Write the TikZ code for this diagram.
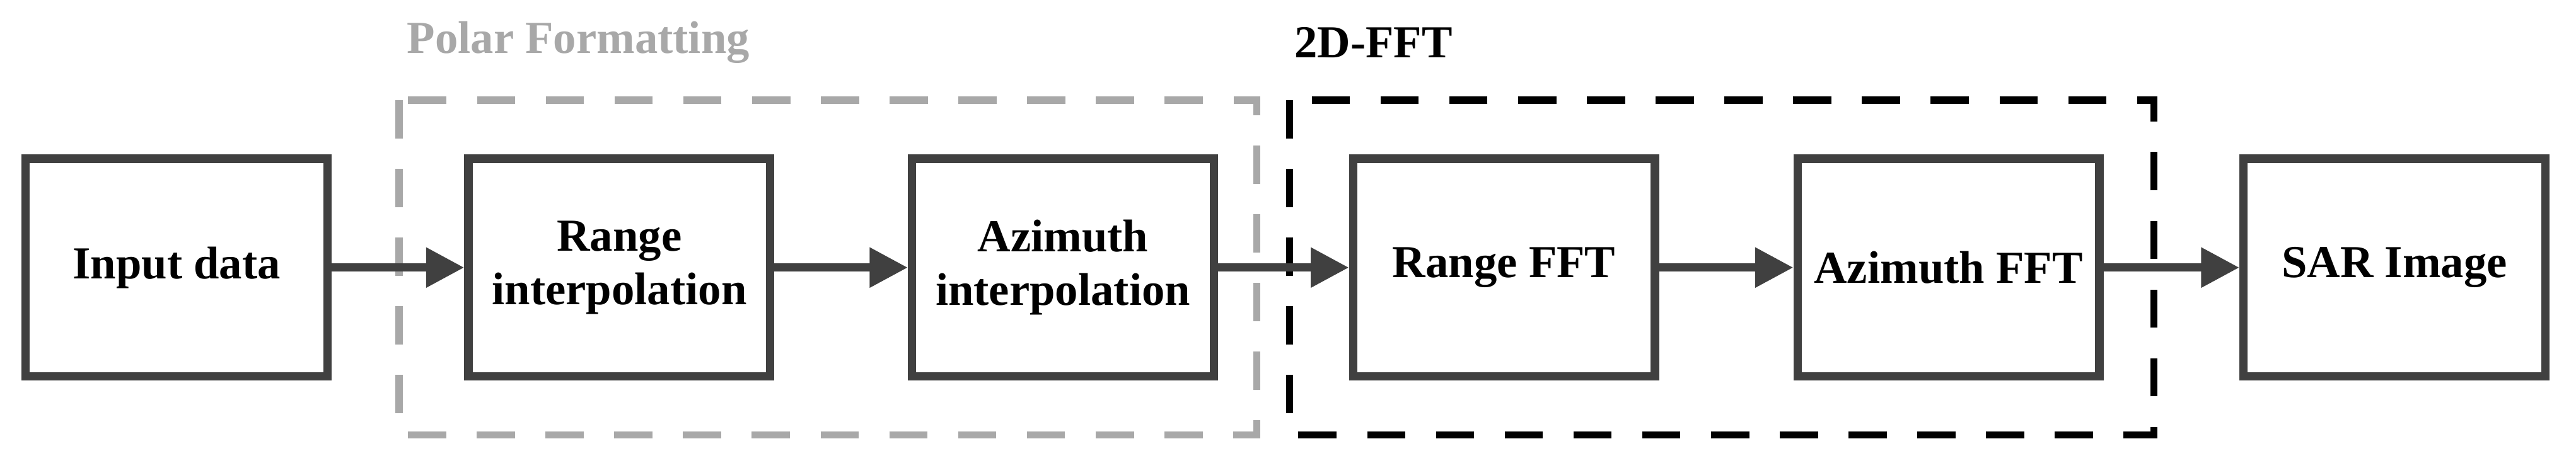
\documentclass[tikz,border=0pt]{standalone}
\usepackage{fontspec}
\setmainfont{Liberation Serif}
\usetikzlibrary{positioning,arrows.meta}
\definecolor{boxgray}{HTML}{404040}
\definecolor{dashgray}{HTML}{A8A8A8}
\begin{document}
\begin{tikzpicture}[x=0.43pt, y=-0.43pt,
    block/.style={rectangle, draw=boxgray, line width=2.2pt, minimum width=79pt, minimum height=57pt, align=center, font=\fontsize{12}{14}\selectfont\bfseries, inner sep=0pt},
    flow/.style={draw=boxgray, line width=2.2pt, -{Triangle[length=10pt,width=10pt]}},
    group/.style={line width=1.9pt, dash pattern=on 10pt off 8pt},
    glabel/.style={font=\fontsize{12}{14}\selectfont\bfseries}
  ]
    \useasboundingbox (0,0) rectangle (1568,285);
    %--- processing chain
    \node[block] (input) at (107.5,163) {Input data};
    \node[block] (rinterp) at (377,163) {Range\\interpolation};
    \node[block] (ainterp) at (647,163) {Azimuth\\interpolation};
    \node[block] (rfft) at (915.5,163) {Range FFT};
    \node[block] (afft) at (1186,163) {Azimuth FFT};
    \node[block] (sar) at (1457.5,163) {SAR Image};
    %--- stage frames
    \draw[group, draw=dashgray] (243,61) rectangle (765,265);
    \node[glabel, text=dashgray] (polar) at (352,26) {Polar Formatting};
    \draw[group, draw=black] (785,61) rectangle (1311,265);
    \node[glabel] (fft2d) at (836,26) {2D-FFT};
    %--- arrows
    \draw[flow] (input) -- (rinterp);
    \draw[flow] (rinterp) -- (ainterp);
    \draw[flow] (ainterp) -- (rfft);
    \draw[flow] (rfft) -- (afft);
    \draw[flow] (afft) -- (sar);
\end{tikzpicture}
\end{document}
